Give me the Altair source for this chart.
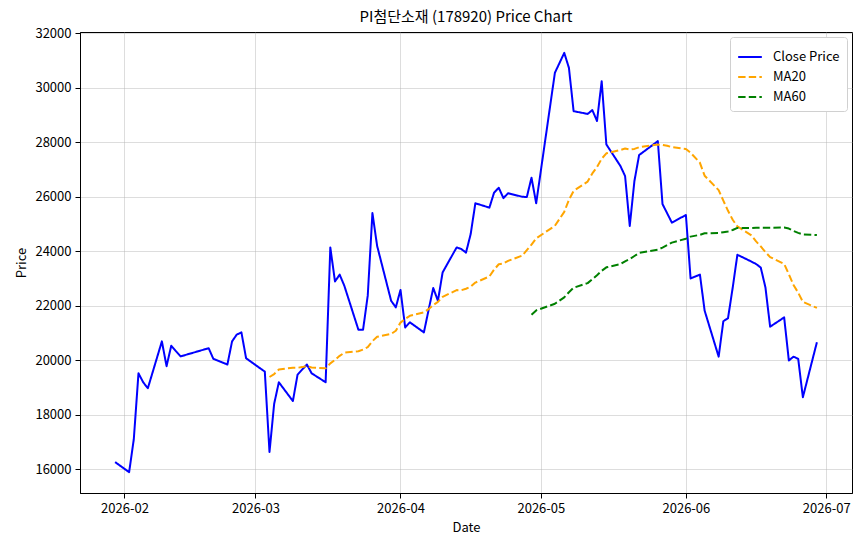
import altair as alt
import pandas as pd

dates = [
    "2026-01-30",
    "2026-02-02", "2026-02-03", "2026-02-04", "2026-02-05", "2026-02-06",
    "2026-02-09", "2026-02-10", "2026-02-11", "2026-02-12", "2026-02-13",
    "2026-02-19", "2026-02-20",
    "2026-02-23", "2026-02-24", "2026-02-25", "2026-02-26", "2026-02-27",
    "2026-03-03", "2026-03-04", "2026-03-05", "2026-03-06",
    "2026-03-09", "2026-03-10", "2026-03-11", "2026-03-12", "2026-03-13",
    "2026-03-16", "2026-03-17", "2026-03-18", "2026-03-19", "2026-03-20",
    "2026-03-23", "2026-03-24", "2026-03-25", "2026-03-26", "2026-03-27",
    "2026-03-30", "2026-03-31", "2026-04-01", "2026-04-02", "2026-04-03",
    "2026-04-06", "2026-04-07", "2026-04-08", "2026-04-09", "2026-04-10",
    "2026-04-13", "2026-04-14", "2026-04-15", "2026-04-16", "2026-04-17",
    "2026-04-20", "2026-04-21", "2026-04-22", "2026-04-23", "2026-04-24",
    "2026-04-27", "2026-04-28", "2026-04-29", "2026-04-30",
    "2026-05-04", "2026-05-06", "2026-05-07", "2026-05-08",
    "2026-05-11", "2026-05-12", "2026-05-13", "2026-05-14", "2026-05-15",
    "2026-05-18", "2026-05-19", "2026-05-20", "2026-05-21", "2026-05-22",
    "2026-05-26", "2026-05-27", "2026-05-28", "2026-05-29",
    "2026-06-01", "2026-06-02", "2026-06-04", "2026-06-05",
    "2026-06-08", "2026-06-09", "2026-06-10", "2026-06-11", "2026-06-12",
    "2026-06-15", "2026-06-16", "2026-06-17", "2026-06-18", "2026-06-19",
    "2026-06-22", "2026-06-23", "2026-06-24", "2026-06-25", "2026-06-26",
    "2026-06-29",
]

close = [
    16260,
    15890, 17100, 19520, 19190, 18970,
    20690, 19780, 20530, 20330, 20140,
    20440, 20050,
    19840, 20690, 20940, 21020, 20070,
    19580, 16630, 18400, 19190,
    18500, 19470, 19660, 19840, 19520,
    19190, 24140, 22890, 23140, 22730,
    21120, 21120, 22370, 25400, 24200,
    22180, 21940, 22580, 21200, 21390,
    21020, 21840, 22650, 22180, 23220,
    24140, 24080, 23950, 24630, 25760,
    25600, 26150, 26330, 25950, 26130,
    26000, 25990, 26700, 25760,
    30550, 31280, 30730, 29140,
    29040, 29180, 28780, 30240, 27920,
    27130, 26760, 24930, 26580, 27530,
    28040, 25730, 25390, 25050,
    25330, 23000, 23140, 21820,
    20130, 21430, 21540, 22660, 23870,
    23620, 23530, 23400, 22670, 21230,
    21570, 19990, 20130, 20050, 18640,
    20660,
]

series_names = ["Close Price", "MA20", "MA60"]
series_colors = ["#0000ff", "#ffa500", "#008000"]
series_dash = [[1, 0], [7.4, 3.2], [7.4, 3.2]]

y_ticks = [16000, 18000, 20000, 22000, 24000, 26000, 28000, 30000, 32000]
x_tick_months = [2, 3, 4, 5, 6, 7]

df = pd.DataFrame({"date": dates, "close": close})

FONT = "Noto Sans CJK KR"

chart = (
    alt.Chart(df)
    .transform_window(idx="row_number()", sort=[alt.SortField("date")], frame=[None, 0])
    .transform_window(ma20="mean(close)", sort=[alt.SortField("date")], frame=[-19, 0])
    .transform_window(ma60="mean(close)", sort=[alt.SortField("date")], frame=[-59, 0])
    .transform_calculate(
        **{
            "Close Price": "datum.close",
            "MA20": "datum.idx >= 20 ? datum.ma20 : null",
            "MA60": "datum.idx >= 60 ? datum.ma60 : null",
        }
    )
    .transform_fold(series_names, as_=["series", "value"])
    .transform_filter("isValid(datum.value)")
    .mark_line(strokeWidth=2, strokeJoin="round")
    .encode(
        x=alt.X(
            "date:T",
            scale=alt.Scale(
                type="utc",
                domain=[
                    alt.DateTime(year=2026, month=1, date=22, hours=12, utc=True),
                    alt.DateTime(year=2026, month=7, date=6, hours=12, utc=True),
                ],
            ),
            axis=alt.Axis(
                values=[alt.DateTime(year=2026, month=m, date=1, utc=True) for m in x_tick_months],
                labelExpr="utcFormat(datum.value, '%Y-%m')",
                title="Date",
            ),
        ),
        y=alt.Y(
            "value:Q",
            scale=alt.Scale(domain=[15125, 32047], nice=False, zero=False),
            axis=alt.Axis(values=y_ticks, format="d", title="Price"),
        ),
        color=alt.Color(
            "series:N",
            scale=alt.Scale(domain=series_names, range=series_colors),
            legend=alt.Legend(title=None),
        ),
        strokeDash=alt.StrokeDash(
            "series:N",
            scale=alt.Scale(domain=series_names, range=series_dash),
            legend=alt.Legend(title=None),
        ),
        order=alt.Order("date:T"),
    )
    .properties(
        width=772,
        height=461,
        autosize=alt.AutoSizeParams(type="none"),
        padding={"left": 80, "top": 32, "right": 12, "bottom": 53},
        title=alt.TitleParams(
            "PI첨단소재 (178920) Price Chart",
            fontSize=15,
            fontWeight="normal",
            font=FONT,
            color="black",
            offset=2,
        ),
    )
    .configure_view(stroke="black", strokeWidth=1)
    .configure_axis(
        labelFont=FONT,
        titleFont=FONT,
        labelFontSize=13,
        titleFontSize=13,
        titleFontWeight="normal",
        labelColor="black",
        titleColor="black",
        domainColor="black",
        tickColor="black",
        tickSize=5,
        labelPadding=4,
        gridColor="#b0b0b0",
        gridOpacity=0.55,
        gridWidth=0.8,
        titlePadding=6,
    )
    .configure_legend(
        orient="top-right",
        offset=5,
        fillColor="white",
        strokeColor="#d0d0d0",
        cornerRadius=3,
        padding=7,
        symbolType="stroke",
        symbolSize=560,
        symbolStrokeWidth=2,
        labelFont=FONT,
        labelFontSize=13,
        labelColor="black",
        labelOffset=10,
        rowPadding=0,
    )
)

chart.save("out.html", embed_options={"renderer": "svg", "actions": False})
